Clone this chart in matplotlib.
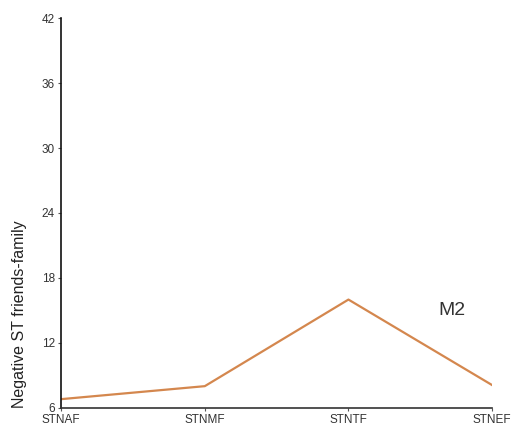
import matplotlib
matplotlib.use("Agg")
import matplotlib.pyplot as plt

categories = ["STNAF", "STNMF", "STNTF", "STNEF"]
values = [6.8, 8.0, 16.0, 8.1]
yticks = [6, 12, 18, 24, 30, 36, 42]

plt.rcParams['font.family'] = ['Liberation Sans', 'DejaVu Sans']
fig = plt.figure(figsize=(5.18, 4.32), dpi=100)
ax = fig.add_axes([0.118, 0.056, 0.832, 0.902])
x = list(range(len(categories)))
ax.plot(x, values, color="#d4874e", linewidth=1.6)
ax.set_xlim(0, 3)
ax.set_ylim(6, 42)
ax.set_xticks(x)
ax.set_xticklabels(categories, fontsize=8.5, color="#333333")
ax.set_yticks(yticks)
ax.set_yticklabels([str(t) for t in yticks], fontsize=8.5, color="#333333")
ax.tick_params(axis='both', length=2.5, width=0.8, color="#555555", pad=2)
for s in ["top", "right"]:
    ax.spines[s].set_visible(False)
ax.spines["left"].set_color("#111111")
ax.spines["left"].set_linewidth(1.2)
ax.spines["bottom"].set_color("#333333")
ax.spines["bottom"].set_linewidth(1.2)
ax.set_ylabel("Negative ST friends-family", fontsize=11.5, color="#222222")
ax.yaxis.set_label_coords(-0.079, 0.24)
ax.text(2.72, 15.0, "M2", fontsize=14, color="#333333", ha="center", va="center")
fig.savefig("out.png", dpi=100)
